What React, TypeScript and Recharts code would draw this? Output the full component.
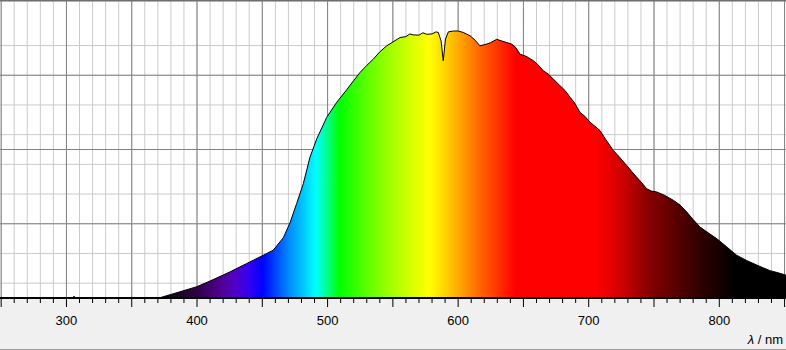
import { AreaChart, Area, XAxis, YAxis, CartesianGrid } from 'recharts';

// wavelength (nm) and relative intensity
const WAVELENGTHS = [
  249.1, 304.5, 305.8, 307, 364, 371.6, 387, 399.8, 409.9, 425.3, 438, 450.8, 458.4, 466.1, 471.2,
  476.3, 481.4, 486.5, 491.7, 499.3, 507, 514.6, 520, 524.8, 530, 535, 540, 545.3, 550, 555.5, 560,
  563, 565.6, 570, 573, 575.9, 580, 583, 584.8, 586.9, 588.6, 590.3, 592.5, 596.3, 600, 604, 609.1,
  613, 616.7, 621.9, 625, 629.5, 633, 637.2, 641, 644, 647.4, 652, 657.6, 661, 665.2, 669, 672.9,
  678, 682, 685.7, 689, 693.3, 697, 701, 704, 708.6, 713, 718.8, 724, 729.1, 733, 736.7, 740, 744.4,
  748, 752.1, 758, 764.8, 770, 775, 780, 785.2, 792, 798, 806, 813.3, 821, 828.7, 834, 838.9, 845,
  851.1,
];
const INTENSITY = [
  0, 0, 0.6, 0, 0, 0.1, 2.1, 3.8, 5.7, 8.8, 11.6, 14.4, 16.1, 20.3, 25.3, 31.8, 38.5, 47.4, 53.6,
  60.8, 65.9, 70.1, 73.2, 75.9, 78.3, 80.4, 82.9, 84.9, 86.2, 87.7, 88.0, 88.9, 88.6, 88.5, 89.3,
  88.8, 88.9, 89.6, 89.4, 86.6, 79.9, 87.2, 89.6, 89.9, 89.9, 89.4, 88.3, 86.8, 84.9, 85.5, 86.0,
  87.1, 86.6, 86.0, 85.5, 84.4, 82.1, 81.4, 79.9, 78.6, 76.5, 75.4, 73.7, 71.5, 69.8, 67.6, 65.8,
  62.5, 61.2, 59.2, 58.1, 56.4, 53.4, 49.7, 47.2, 44.6, 42.6, 40.7, 39.1, 36.8, 36.0, 35.7, 34.6,
  32.9, 31.3, 29.0, 26.4, 23.9, 21.8, 20.0, 17.1, 14.4, 12.6, 11.1, 10.1, 9.2, 8.5, 7.7,
];

const NM_MIN = 249.1;
const NM_MAX = 851.1;
const X_TICKS = [250, 260, 270, 280, 290, 300, 310, 320, 330, 340, 350, 360, 370, 380, 390, 400,
  410, 420, 430, 440, 450, 460, 470, 480, 490, 500, 510, 520, 530, 540, 550, 560, 570, 580, 590,
  600, 610, 620, 630, 640, 650, 660, 670, 680, 690, 700, 710, 720, 730, 740, 750, 760, 770, 780,
  790, 800, 810, 820, 830, 840, 850];
const X_MAJOR = [250, 300, 350, 400, 450, 500, 550, 600, 650, 700, 750, 800, 850];
const Y_MINOR = [0, 5, 10, 15, 20, 25, 30, 35, 40, 45, 50, 55, 60, 65, 70, 75, 80, 85, 90, 95, 100];
const Y_MAJOR = [0, 25, 50, 75, 100];

// spectrum colours across the fill
const COLOR_STOPS: [number, string][] = [
  [249.1, '#000000'], [372, '#000000'], [388, '#1a0824'], [400, '#2e0048'], [410, '#420070'],
  [420, '#52009c'], [430, '#5000cc'], [440, '#3400f2'], [450, '#0000ff'], [460, '#0044ff'],
  [470, '#0088ff'], [480, '#00c0ff'], [491, '#00ffff'], [500, '#00ff88'], [509, '#00ff00'],
  [530, '#5cff00'], [550, '#a8ff00'], [568, '#e4ff00'], [578, '#ffff00'], [590, '#ffd400'],
  [600, '#ffaa00'], [615, '#ff6c00'], [630, '#ff3400'], [644, '#ff0000'], [706, '#ff0000'],
  [725, '#d00000'], [745, '#8a0000'], [760, '#680000'], [785, '#300000'], [800, '#160000'],
  [812, '#000000'], [851.1, '#000000'],
];

const data = WAVELENGTHS.map((nm, i) => ({ nm, v: INTENSITY[i] }));
const FONT = '"Liberation Sans", Arial, sans-serif';

function AxisTick({ x, y, payload }: { x?: number; y?: number; payload?: { value: number } }) {
  const v = payload?.value ?? 0;
  const major = v % 50 === 0;
  const labelled = v % 100 === 0 && v >= 300 && v <= 800;
  return (
    <g>
      <line x1={x} x2={x} y1={y} y2={(y ?? 0) + (major ? 9 : 5)} stroke="#000" />
      {labelled && (
        <text x={x} y={(y ?? 0) + 27} textAnchor="middle" fontSize={13} fill="#000" fontFamily={FONT}>
          {v}
        </text>
      )}
    </g>
  );
}

export default function App() {
  return (
    <div
      style={{
        position: 'absolute',
        left: 0,
        top: 0,
        width: 786,
        height: 350,
        boxSizing: 'border-box',
        background: '#f0f0f0',
        borderTop: '1px solid #6e6e6e',
        borderBottom: '1px solid #a0a0a0',
      }}
    >
      <AreaChart width={786} height={348} data={data} margin={{ top: 0, right: 0, left: 0, bottom: 0 }}>
        <defs>
          <linearGradient id="spectrum" x1="0" y1="0" x2="1" y2="0">
            {COLOR_STOPS.map(([nm, c]) => (
              <stop key={nm} offset={(nm - NM_MIN) / (NM_MAX - NM_MIN)} stopColor={c} />
            ))}
          </linearGradient>
        </defs>
        <CartesianGrid
          fill="#ffffff"
          stroke="#cbcbcb"
          verticalValues={X_TICKS}
          horizontalValues={Y_MINOR}
        />
        <CartesianGrid
          fill="none"
          stroke="#828282"
          verticalValues={X_MAJOR}
          horizontalValues={Y_MAJOR}
        />
        <XAxis
          type="number"
          dataKey="nm"
          domain={[NM_MIN, NM_MAX]}
          allowDataOverflow
          ticks={X_TICKS}
          interval={0}
          height={51}
          tickSize={0}
          tickMargin={0}
          tickLine={false}
          tick={<AxisTick />}
          axisLine={{ stroke: '#000', strokeWidth: 2 }}
        />
        <YAxis hide type="number" domain={[0, 100]} ticks={Y_MINOR} />
        <Area
          type="linear"
          dataKey="v"
          stroke="#000"
          strokeWidth={1}
          fill="url(#spectrum)"
          fillOpacity={1}
          isAnimationActive={false}
          dot={false}
          activeDot={false}
        />
      </AreaChart>
      <span
        style={{
          position: 'absolute',
          right: 3,
          bottom: 2,
          fontSize: 13,
          fontFamily: FONT,
          color: '#000',
        }}
      >
        <i>λ</i> / nm
      </span>
    </div>
  );
}
